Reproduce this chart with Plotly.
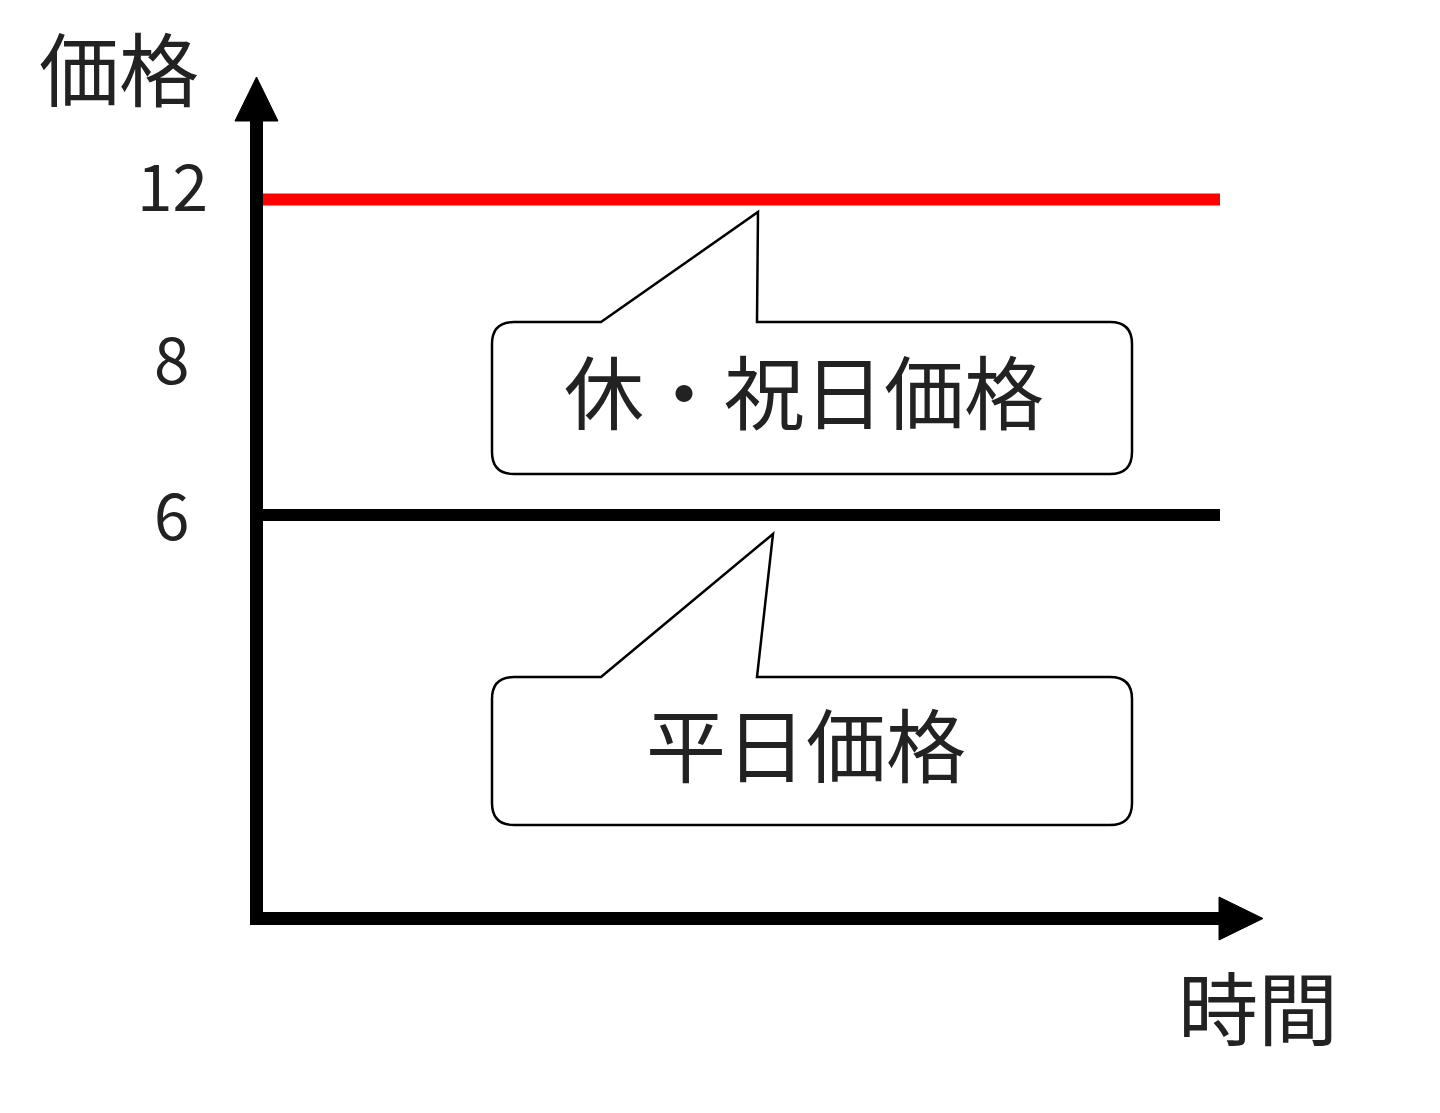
import plotly.graph_objects as go

# ---------------- data ----------------
series_names = ["休・祝日価格", "平日価格"]
series_prices = [12, 6]
series_colors = ["#ff0000", "#000000"]
time_points = [0, 1]
y_tick_labels = ["12", "8", "6"]
y_tick_values = [12, 8, 6]
y_axis_title = "価格"
x_axis_title = "時間"

# ---------------- layout constants (page pixels, body margin compensated) ----------------
OFF = 8
W, H = 1440 - 2 * OFF, 1113 - 2 * OFF
PLOT_X0, PLOT_X1, PLOT_Y0, PLOT_Y1 = 263, 1220, 120, 912  # page pixels
L = PLOT_X0 - OFF
T = PLOT_Y0 - OFF
R = W - (PLOT_X1 - OFF)
B = H - (PLOT_Y1 - OFF)
PW, PH = W - L - R, H - T - B
FONT = "Noto Sans CJK JP, Noto Sans CJK SC, sans-serif"
TXT = "#222222"
TEXT_DY = -5


def px(x):
    return (x - PLOT_X0) / PW


def py(y):
    return (PLOT_Y1 - y) / PH


def pt(x, y):
    return f"{px(x):.5f},{py(y):.5f}"


fig = go.Figure()
for name, price, color in zip(series_names, series_prices, series_colors):
    fig.add_trace(go.Scatter(
        x=time_points, y=[price] * len(time_points), mode="lines", name=name,
        line=dict(color=color, width=12), hoverinfo="skip", showlegend=False,
    ))

shapes = []
# arrow heads
shapes.append(dict(type="path", xref="paper", yref="paper",
                   path=f"M{pt(235,121)} L{pt(256.5,77)} L{pt(278,121)} Z",
                   fillcolor="black", line=dict(color="black", width=1)))
shapes.append(dict(type="path", xref="paper", yref="paper",
                   path=f"M{pt(1219,897)} L{pt(1263,918.5)} L{pt(1219,940)} Z",
                   fillcolor="black", line=dict(color="black", width=1)))


def callout(x0, x1, y0, y1, b0, tipx, tipy, b1, r=22):
    p = (f"M{pt(x0+r,y0)} L{pt(b0,y0)} L{pt(tipx,tipy)} L{pt(b1,y0)} "
         f"L{pt(x1-r,y0)} Q{pt(x1,y0)} {pt(x1,y0+r)} L{pt(x1,y1-r)} "
         f"Q{pt(x1,y1)} {pt(x1-r,y1)} L{pt(x0+r,y1)} Q{pt(x0,y1)} {pt(x0,y1-r)} "
         f"L{pt(x0,y0+r)} Q{pt(x0,y0)} {pt(x0+r,y0)} Z")
    return dict(type="path", xref="paper", yref="paper", path=p,
                fillcolor="white", line=dict(color="black", width=2.5))


shapes.append(callout(492, 1132, 322, 474, 601, 758, 212, 757))
shapes.append(callout(492, 1132, 677, 825, 601, 773, 534, 757))

annotations = []
# callout texts
for name, (cx, cy) in zip(series_names, [(804, 393), (806, 746)]):
    annotations.append(dict(text=name, x=px(cx), y=py(cy + TEXT_DY), xref="paper", yref="paper",
                            showarrow=False, xanchor="center", yanchor="middle",
                            font=dict(family=FONT, size=80, color=TXT)))
# axis titles
annotations.append(dict(text=y_axis_title, x=px(119), y=py(70 + TEXT_DY), xref="paper", yref="paper",
                        showarrow=False, xanchor="center", yanchor="middle",
                        font=dict(family=FONT, size=80, color=TXT)))
annotations.append(dict(text=x_axis_title, x=px(1258), y=py(1009 + TEXT_DY), xref="paper", yref="paper",
                        showarrow=False, xanchor="center", yanchor="middle",
                        font=dict(family=FONT, size=80, color=TXT)))
# y tick labels (schematic axis: label positions as drawn)
tick_centers = [188, 361, 517]
for lab, cy in zip(y_tick_labels, tick_centers):
    annotations.append(dict(text=lab, x=px(172), y=py(cy + TEXT_DY), xref="paper", yref="paper",
                            showarrow=False, xanchor="center", yanchor="middle",
                            font=dict(family=FONT, size=64, color=TXT)))

y_lo = 6 - (PLOT_Y1 - 515) / ((515 - 199.5) / 6)
y_hi = 12 + (199.5 - PLOT_Y0) / ((515 - 199.5) / 6)

fig.update_layout(
    width=W, height=H, autosize=False,
    margin=dict(l=L, r=R, t=T, b=B, pad=0),
    paper_bgcolor="white", plot_bgcolor="white",
    xaxis=dict(range=[0, 1], showgrid=False, zeroline=False, showticklabels=False,
               ticks="", showline=True, linecolor="black", linewidth=13),
    yaxis=dict(range=[y_lo, y_hi], showgrid=False, zeroline=False, showticklabels=False,
               ticks="", showline=True, linecolor="black", linewidth=13),
    shapes=shapes, annotations=annotations, showlegend=False,
)

fig.write_html("out.html")
